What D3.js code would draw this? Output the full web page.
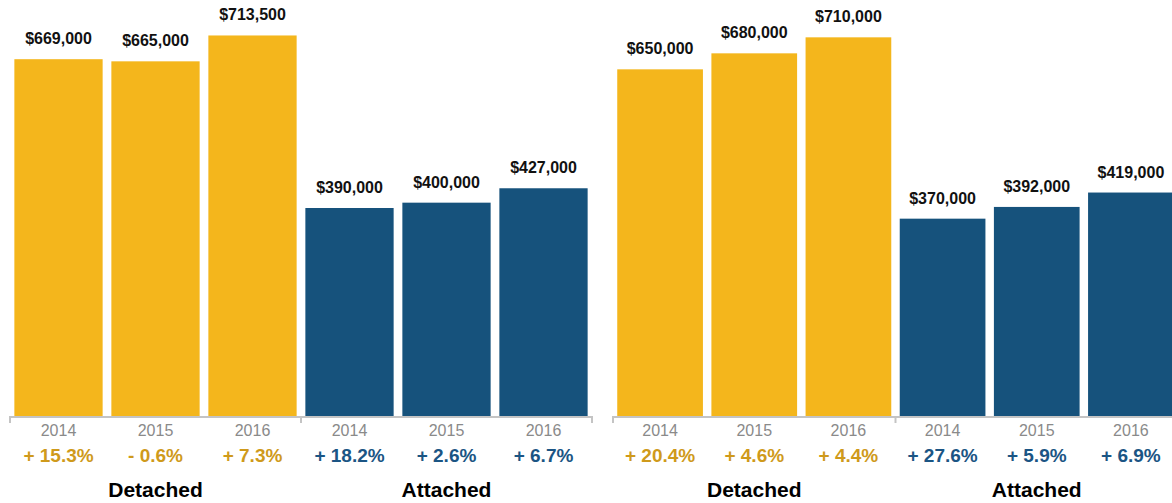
<!DOCTYPE html>
<html>
<head>
<meta charset="utf-8">
<script src="https://cdn.jsdelivr.net/npm/d3@7"></script>
<style>
  html, body { margin: 0; padding: 0; background: #fff; }
  svg { display: block; font-family: "Liberation Sans", Arial, Helvetica, sans-serif; }
</style>
</head>
<body>
<svg id="chart" width="1172" height="503"></svg>
<script>
// Home types and years shown in each panel
const categories = ["Detached", "Attached"];
const years = ["2014", "2015", "2016"];

// Left panel: median prices and year-over-year change
const leftDetached = [669000, 665000, 713500];
const leftAttached = [390000, 400000, 427000];
const leftDetachedChange = ["+ 15.3%", "- 0.6%", "+ 7.3%"];
const leftAttachedChange = ["+ 18.2%", "+ 2.6%", "+ 6.7%"];

// Right panel: median prices and year-over-year change
const rightDetached = [650000, 680000, 710000];
const rightAttached = [370000, 392000, 419000];
const rightDetachedChange = ["+ 20.4%", "+ 4.6%", "+ 4.4%"];
const rightAttachedChange = ["+ 27.6%", "+ 5.9%", "+ 6.9%"];

const colors = { Detached: "#F4B61C", Attached: "#16527C" };
const changeColors = { Detached: "#CF9A1B", Attached: "#1B5584" };

const svg = d3.select("#chart");
const baseline = 416;

const y = d3.scaleLinear().domain([0, 780000]).range([baseline, 0]);
const money = v => "$" + d3.format(",")(v);

function rows(detached, attached, dChange, aChange) {
  const out = [];
  categories.forEach(cat => {
    const vals = cat === "Detached" ? detached : attached;
    const chg = cat === "Detached" ? dChange : aChange;
    years.forEach((yr, i) => out.push({ key: cat + "-" + yr, cat, year: yr, value: vals[i], change: chg[i] }));
  });
  return out;
}

function panel(x0, x1, data) {
  const g = svg.append("g");
  const x = d3.scaleBand()
    .domain(data.map(d => d.key))
    .range([x0, x1])
    .paddingInner(0.09)
    .paddingOuter(0.045);

  // bars
  g.selectAll("rect.bar").data(data).join("rect")
    .attr("class", "bar")
    .attr("x", d => x(d.key))
    .attr("width", x.bandwidth())
    .attr("y", d => y(d.value))
    .attr("height", d => baseline - y(d.value))
    .attr("fill", d => colors[d.cat]);

  // value labels
  g.selectAll("text.val").data(data).join("text")
    .attr("class", "val")
    .attr("x", d => x(d.key) + x.bandwidth() / 2)
    .attr("y", d => y(d.value) - 15)
    .attr("text-anchor", "middle")
    .attr("font-size", 16)
    .attr("font-weight", "bold")
    .attr("fill", "#111")
    .text(d => money(d.value));

  // baseline with group boundary ticks
  const groupEdges = [x0, (x0 + x1) / 2, x1];
  g.append("line")
    .attr("x1", x0).attr("x2", x1)
    .attr("y1", baseline + 1).attr("y2", baseline + 1)
    .attr("stroke", "#c4c4c4").attr("stroke-width", 2);
  g.selectAll("line.tick").data(groupEdges).join("line")
    .attr("class", "tick")
    .attr("x1", d => d).attr("x2", d => d)
    .attr("y1", baseline).attr("y2", baseline + 7)
    .attr("stroke", "#c4c4c4").attr("stroke-width", 2);

  // year labels
  const axis = g.append("g")
    .attr("transform", `translate(0,${baseline})`)
    .call(d3.axisBottom(x).tickSize(0).tickPadding(0).tickFormat(k => k.split("-")[1]));
  axis.select(".domain").remove();
  axis.selectAll("text")
    .attr("dy", null)
    .attr("y", 20)
    .attr("font-size", 16)
    .attr("font-family", "\"Liberation Sans\", Arial, sans-serif")
    .attr("fill", "#8a8a8a");

  // change labels
  g.selectAll("text.chg").data(data).join("text")
    .attr("class", "chg")
    .attr("x", d => x(d.key) + x.bandwidth() / 2)
    .attr("y", baseline + 46)
    .attr("text-anchor", "middle")
    .attr("font-size", 19)
    .attr("font-weight", "bold")
    .attr("fill", d => changeColors[d.cat])
    .text(d => d.change);

  // category labels
  categories.forEach(cat => {
    const keys = data.filter(d => d.cat === cat).map(d => d.key);
    const cx = (x(keys[0]) + x(keys[keys.length - 1]) + x.bandwidth()) / 2;
    g.append("text")
      .attr("x", cx)
      .attr("y", baseline + 81)
      .attr("text-anchor", "middle")
      .attr("font-size", 21)
      .attr("font-weight", "bold")
      .attr("fill", "#000")
      .text(cat);
  });
}

panel(10, 592, rows(leftDetached, leftAttached, leftDetachedChange, leftAttachedChange));
panel(613, 1178, rows(rightDetached, rightAttached, rightDetachedChange, rightAttachedChange));
</script>
</body>
</html>
